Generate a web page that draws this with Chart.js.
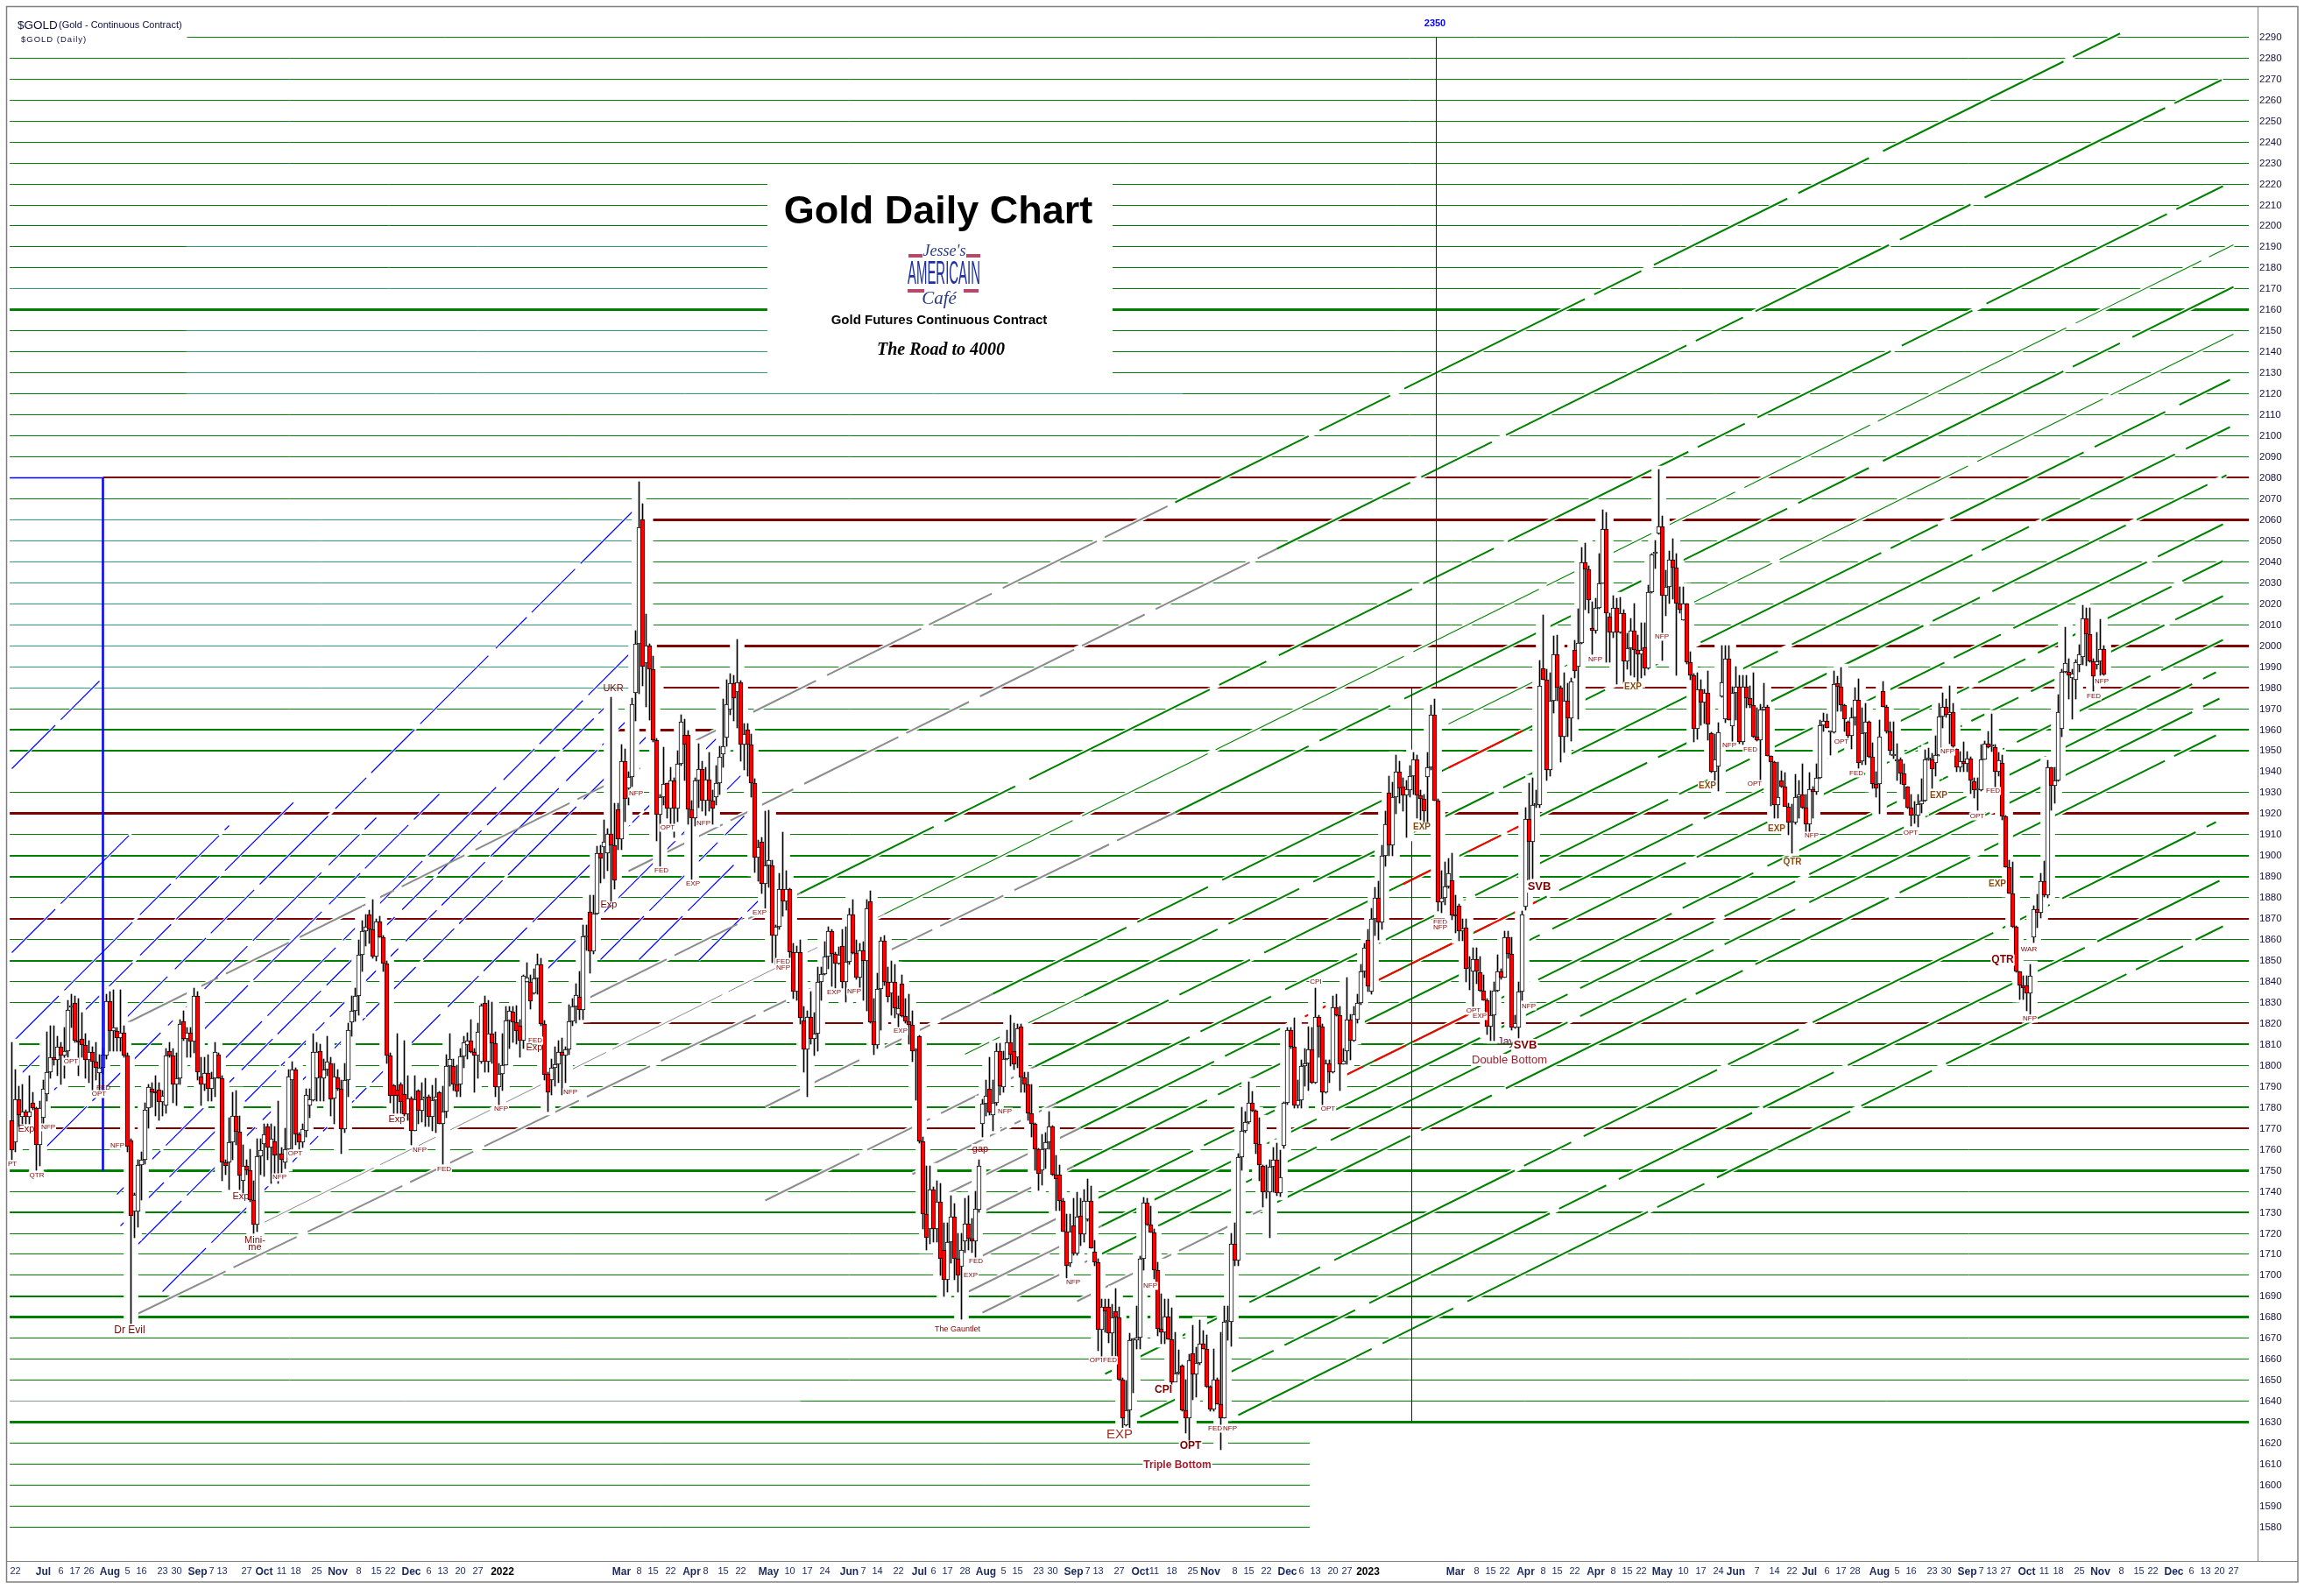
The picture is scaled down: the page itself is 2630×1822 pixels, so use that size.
<!DOCTYPE html>
<html><head><meta charset="utf-8"><style>html,body{margin:0;padding:0;background:#fff}canvas{display:block}</style>
<script src="https://cdn.jsdelivr.net/npm/chart.js@4/dist/chart.umd.min.js"></script></head><body>
<canvas id="c" width="2630" height="1822"></canvas>
<script>
const opens=[
1773.9,1763.5,1783.9,1775.6,1778,1775.6,1782,1779.7,1762,1775,
1786.4,1797,1804,1802.6,1809,1804.7,1807,1827.5,1829.7,1812,
1812.6,1809.7,1802.6,1806.4,1801.7,1796.4,1799,1804.7,1830.6,1816.5,
1816.5,1813,1815.6,1804.7,1764.3,1730.6,1730.6,1752.4,1755,1779.7,
1789,1787.6,1788.5,1782.6,1781,1806.8,1804.6,1791,1794,1821,
1812.6,1815.6,1811.4,1833,1794.7,1791,1796.4,1789,1794,1805,
1794,1754,1754,1763.5,1776,1768.5,1745,1752,1750,1736,
1724,1756.8,1762.5,1770.8,1760.7,1764,1757,1758,1754,1760,
1793,1798,1767,1763.5,1769,1780.8,1783.6,1794,1806.8,1794,
1798,1801,1784.3,1794.3,1789,1769.7,1793,1820.4,1826,1833,
1852.6,1864,1872,1865,1851.7,1868.7,1861,1848.5,1804.7,1790.5,
1788.5,1791,1786.4,1776.7,1784.3,1768.7,1788,1778.5,1784.3,1785,
1775.6,1783.3,1787,1772,1778,1799.6,1799.6,1791,1791,1804.4,
1809.7,1811.8,1806.5,1804.7,1801.7,1829.6,1801.8,1815,1810.7,1789.9,
1796,1800,1821.5,1825.7,1820.8,1818.8,1812,1840,1840,1834.3,
1841.4,1848,1819.7,1796,1793,1799,1800.5,1806.4,1804.7,1807.5,
1821,1828,1832.6,1826.4,1861,1873,1854.3,1872.3,1901.3,1904.2,
1901.3,1910.4,1905,1922,1907.7,1945,1932,1937.5,1977.7,2001,
2060,1991.8,2000,1988.6,1954.8,1919.7,1928,1934.4,1922.4,1935.6,
1922.4,1943.6,1957.6,1957.6,1922,1917.8,1936,1941.2,1926.4,1936.4,
1926.4,1927.7,1934.4,1948.4,1956.4,1969.6,1982,1978,1982.7,1952.7,
1960,1952.7,1934.4,1899,1906.4,1886.5,1895.3,1895.3,1862,1866,
1884,1878,1884,1853.8,1835.4,1853.8,1821.4,1807.6,1823,1812.6,
1815,1840,1843.7,1852,1863.8,1853,1848.5,1857,1839.9,1849.3,
1872,1853.5,1841.8,1855,1850,1878,1821,1809.7,1836.4,1859.3,
1839.9,1834.3,1839.6,1824.3,1838.9,1823.5,1821,1819.3,1807,1813.9,
1763.9,1729,1722,1741,1722,1735,1712,1698,1716,1728,
1708,1704,1716.2,1724.6,1717.4,1716.2,1731.3,1772.2,1781.7,1789,
1776.5,1782,1807,1789.7,1803,1810.8,1806.8,1804,1818.4,1794.3,
1791,1777,1772,1760,1750,1760,1763.4,1770.9,1748,1748,
1735.3,1721,1705.8,1723.8,1710.3,1728.3,1719.5,1726.7,1735.5,1711.4,
1706.3,1674,1684.8,1684.8,1672.3,1682.8,1680,1650.5,1628.5,1635.8,
1669,1669,1670.4,1707.9,1734.5,1724,1720.6,1702.3,1674.7,1672.8,
1680.4,1669.6,1648.9,1653.3,1656.8,1635.6,1632,1663,1652.7,1658.4,
1667.5,1665,1646.8,1636,1650.5,1638.8,1632,1678,1678,1715,
1707,1756.2,1768.8,1773,1782,1778.5,1762.6,1752.2,1739.8,1739.8,
1751.8,1755,1739.3,1761.6,1782,1816.8,1809,1781,1783.3,1799.6,
1800.9,1807.6,1792,1823,1818.7,1787.3,1801,1796.9,1827.5,1824,
1800.7,1807,1822,1811.9,1822,1829.6,1844.7,1860,1835,1870,
1880,1868,1900,1930,1905,1928,1940,1932.9,1928.5,1931,
1938,1946,1928.5,1927,1937.5,1942,1967,1926.4,1877.7,1879.8,
1885.4,1888.3,1871.5,1876,1864,1865.7,1846,1844.9,1850.7,1844.2,
1835.6,1831,1818.6,1824,1835.6,1844.9,1842,1861,1853,1818.2,
1818.2,1835.3,1875.8,1917.6,1906.4,1924,1924,1989.4,1984,1941,
1973.6,1996,1980,1956.8,1973.9,1965.5,1997.8,1990,2001.5,2039.8,
2036.4,2008.5,2007,2018,2029.7,2055.6,2013.8,2006.4,2018,2006.4,
2015.6,1992.7,1999,2007,1998,1996,1999.4,1989.4,2025.4,2044,
2053.3,2057,2024,2028,2041,2037.4,2020,2012,2020,1992,
1985.9,1960.4,1979,1973,1977.6,1958.4,1940,1942.5,1976,1965,
1993.8,1961.6,1977.6,1980.3,1954.3,1980.3,1975,1971.5,1956.8,1955.2,
1969.6,1971,1947.6,1944.4,1924,1936,1932.9,1923.3,1915.7,1915.7,
1927.7,1929,1923,1915,1931.6,1930.5,1936.9,1962,1964.3,1958.7,
1958.7,1982,1980.4,1971.6,1963.6,1957,1966,1974,1944.8,1958.4,
1963.6,1947,1934.1,1934,1978.3,1971,1959,1947.5,1944.8,1946,
1939,1933,1923,1919,1919,1924.6,1926,1946,1946,1944.3,
1948,1966.3,1971,1967,1968.3,1951,1942,1944.8,1943.7,1946.4,
1935.3,1931.3,1931.3,1946,1953.3,1952.2,1951.5,1940,1944,1918.8,
1894.6,1881.8,1866,1844.8,1838,1838,1834.4,1861,1874.6,1872.6,
1887.9,1881,1942,1933.3,1935.7,1960.4,1987.6,1987.6,1984.7,1983.7,
1990.7,1994.6,2012.9,2005.4,1992.5,1991,1992.5,1998.6];
const highs=[
1811,1798,1790,1791,1779,1795,1787,1780,1783,1793,
1816,1819,1819,1814,1811,1818,1831,1834,1833,1832,
1825,1815,1812,1809,1811,1805,1808,1834,1835,1836,
1818,1836,1819,1806,1765,1739,1755,1759,1782,1791,
1792,1795,1792,1788,1808,1811,1808,1806,1822,1826,
1818,1818,1837,1835,1804,1804,1805,1797,1811,1806,
1795,1755,1775,1787,1788,1776,1762,1755,1760,1745,
1765,1765,1772,1772,1772,1771,1783,1761,1770,1798,
1802,1799,1768,1772,1789,1789,1815,1811,1810,1803,
1814,1804,1801,1798,1793,1801,1820,1833,1837,1860,
1869,1872,1874,1879,1870,1871,1862,1850,1806,1791,
1815,1792,1812,1795,1785,1795,1788.5,1792,1794,1786,
1790.5,1794,1787.5,1790,1805,1815,1803,1800,1808,1814,
1815.5,1822,1808,1820,1829.5,1833,1831,1830,1816,1801,
1815,1828,1828,1828,1828.5,1822,1843,1849,1843,1846,
1853,1851,1821.5,1797,1803,1809,1812,1813,1809,1829,
1832,1839,1845,1867,1867,1881,1881,1904.5,1905,1917,
1913,1975.5,1925,1925,1953,1951,1940,1975,2007,2078,
2067.7,2015,2001,1995,1956,1929,1951.6,1934.5,1942,1937,
1950,1967,1965,1959.5,1926,1937,1953.5,1945,1942,1949,
1931,1943,1952,1974.7,1984,1986.7,1986,2003,1983.5,1963,
1963,1958,1936.5,1907.5,1908.5,1921,1921.6,1897.7,1867,1891.5,
1911,1893,1884.5,1858,1857,1860,1828,1826,1835,1825,
1847,1847,1859,1866,1865,1854,1856.5,1865,1866,1875,
1879,1860,1858,1859,1879,1883,1832,1844,1861,1862,
1847,1850,1848,1833,1843,1832,1834,1826,1808,1814.5,
1766,1752,1752,1742,1745,1744,1725,1725,1738,1734,
1720,1720,1736.5,1738,1727,1740,1755,1784,1793,1804,
1793,1810.5,1810.5,1807,1817,1824,1820,1819.6,1819.6,1797,
1797,1791,1772.5,1760.5,1767,1768,1778,1771.5,1757,1752.5,
1736.5,1729,1729,1736.5,1739.7,1736.5,1741,1745.7,1742.6,1716.7,
1708,1688.8,1688.8,1688.8,1686.4,1693.5,1685,1651.3,1649.7,1672.5,
1670,1685.5,1709,1737,1736.5,1733,1722,1706.3,1691.4,1688.8,
1688.8,1684.5,1673,1664.5,1657.6,1650.5,1662.5,1676,1665.6,1678.8,
1673.8,1671.4,1647.3,1665,1651.3,1673,1685.5,1685.5,1720,1725,
1758,1780,1778,1792.4,1787.6,1778.8,1775,1752.5,1752.5,1755,
1761,1763,1759.8,1782.5,1818,1818,1822.5,1793,1802.6,1808,
1818.4,1818,1837,1824,1819.6,1802.6,1802.6,1833,1834,1828,
1808,1842,1824.3,1828,1834,1848,1858,1865,1875,1885,
1888,1905,1921,1938,1935,1948,1945,1937,1936,1943,
1949,1948,1931,1929,1949,1971.5,1974.7,1927,1893,1897,
1898.6,1901,1881,1877,1870,1870,1852,1856,1856,1852,
1843,1832,1835.6,1840,1852.6,1846,1864,1864,1861,1824,
1840,1873.4,1922.8,1934.5,1937,1931,1993,2014.6,1989,1987,
2004.5,2005,1980.8,1987,1982,1984.8,2002.5,2017.8,2047,2049,
2038,2021,2022.5,2044,2064.8,2063.6,2015.4,2024,2022.5,2023,
2017,2005.8,2013,2020,2005,2011,2011,2028.8,2044,2050,
2084,2062,2036,2045,2051,2044,2028,2028,2020,1997,
1986.7,1987,1984,1979,1988,1958.8,1958,1963.5,2000,2000,
2000,1980.3,1990,1986,1986,1986,1981,1987,1970.6,1972,
1982,1971.5,1947.6,1944.8,1944.4,1940.4,1939.7,1925,1924.4,1938.8,
1935.7,1943.6,1929,1939.7,1933,1943.6,1964.7,1967.8,1967.5,1959,
1988,1985.4,1989.8,1972,1964,1970.5,1980,1984.2,1970.5,1972.4,
1964,1953.7,1940,1964.8,1983,1971.8,1963.6,1963.6,1953.5,1946.8,
1943.9,1933,1929,1925.8,1929,1936.8,1950.3,1951.3,1948.7,1957,
1972.7,1977.4,1974.8,1981,1972.4,1951,1949.6,1954,1949.6,1947,
1937,1937,1952.8,1954.5,1959,1967.5,1952.8,1949,1948,1919.3,
1897.7,1897,1866.5,1845,1842.7,1842.7,1848.3,1876,1881.7,1891.4,
1897.4,1945.6,1942.2,1942,1976.7,1988.7,2009,1993.9,1988.7,1993.5,
2000.6,2019.3,2018.2,2017.9,1994,2006.2,2012.6,2000];
const lows=[
1755,1759,1771,1772,1772,1772,1779,1750,1752,1772,
1783,1794,1800,1795,1791,1794,1804,1818,1811,1795,
1804,1794,1792,1788,1793,1788,1796,1803,1807,1807,
1807,1807,1804,1759,1677,1718,1723,1736,1753,1770,
1780,1776,1774,1776,1777,1804,1782,1781,1791,1812,
1804,1804,1806,1793,1781,1788,1783,1783,1785,1794,
1745,1748,1741,1755,1762,1741,1739,1748,1735,1720,
1721,1748,1747,1755,1744,1748,1744,1749,1751,1759,
1760,1762,1760,1761,1766,1775,1783,1783,1783,1783,
1795,1776,1772,1788,1758,1768,1785,1814,1821,1824,
1845,1857,1858,1851,1850,1861,1845,1801,1782,1777,
1777,1777,1776,1774,1762,1769,1772,1773,1771,1771,
1769,1768,1772,1753,1775,1790,1788,1785,1785,1799,
1803,1806,1787,1794,1801,1797,1797,1801,1785,1780,
1788,1800,1808,1811,1810,1804,1808,1840,1827,1834,
1834,1819,1793,1778,1786,1790,1792,1786,1792,1805,
1819,1820,1822,1822,1855,1844,1853,1872,1887,1889,
1893,1878,1884,1903,1903,1916,1924,1933,1964,1977,
1981,1971,1964.6,1954,1907,1895,1924,1918,1913,1908.5,
1916,1943,1936,1915,1888.6,1914,1923,1921,1919,1921,
1915,1924,1929,1942,1952,1967,1964,1961,1945,1941,
1938,1928,1891.8,1888,1882,1875,1885,1849,1848,1865,
1871,1874,1848,1832,1831,1819.7,1797,1785,1810,1804.7,
1807,1831,1843,1846,1837.8,1836.7,1848,1837,1830,1848,
1853,1841,1837,1831,1826,1820,1805,1808,1817,1838,
1830,1824,1822.5,1818,1823,1820,1810,1802,1783.6,1763,
1722,1712,1715,1716,1716,1700,1690,1692,1706,1698,
1692,1679,1711,1712,1711,1708,1730,1766,1776,1776.5,
1769,1781,1786,1787,1802.6,1799.7,1798,1799,1787,1787,
1774,1766,1750,1740.6,1743,1751,1760,1747.5,1731,1731,
1720.7,1698.8,1704,1709.5,1709.5,1714,1716,1726,1712.7,1704.7,
1664,1661.3,1672.8,1668,1661.6,1661.6,1649.7,1627.3,1628,1622,
1644,1665,1665,1702.3,1723.7,1720.6,1698.3,1671.2,1667.3,1667.3,
1669.6,1644,1651,1653,1635.3,1624.9,1621,1640.5,1642,1657.6,
1664.7,1646.5,1635.3,1635.3,1638.5,1617,1632,1669,1666,1704.7,
1704.7,1750,1768,1772,1778,1758,1745,1732.6,1736.6,1718,
1739.8,1738,1737.5,1760.5,1781.5,1808,1779.7,1779.7,1779.7,1790,
1788,1791.5,1791.5,1804,1781,1786.7,1791.7,1796.4,1823.7,1788,
1800.4,1800.4,1802.6,1811.6,1820,1829,1842,1835,1834,1862,
1860,1865,1895,1900,1900,1920,1925,1921,1908.5,1928,
1929,1917.8,1917,1915.7,1915.7,1941,1926,1873.4,1872.7,1876.7,
1884.6,1869.4,1863,1859.5,1859.5,1839.7,1836,1828,1839,1835,
1831,1814.7,1812,1812,1835,1841,1841.8,1851,1817,1817.6,
1813,1831,1874,1888.6,1889,1923,1923,1983.6,1935.6,1938,
1968,1973.6,1944.7,1949,1956.8,1954.5,1984.8,1965,2001,2017,
2015.5,1996,2005.8,2017.8,2029.7,1992,1992,2003.7,1981.9,2005.8,
1982,1989,1986,1985,1981.6,1984.8,1985.8,1988.6,2025,2037,
2053,1992.9,2014.3,2020,2022,1985.8,2015.5,2012,1991.5,1984,
1954,1955.6,1962,1963,1955,1939.7,1936,1930.8,1975.6,1963.4,
1964.4,1953,1964.7,1953.5,1953,1970.6,1970.6,1956.3,1954.7,1935.6,
1969,1947.6,1923.8,1918,1918,1932.4,1923.6,1910,1901.3,1915,
1917.8,1922.4,1909,1910,1917.8,1929,1936.5,1959,1961,1948,
1958.3,1968.7,1968.7,1959,1954,1950.8,1962,1941.7,1943.3,1943.3,
1946.6,1932,1928,1920,1970.8,1958.2,1948,1946.4,1935.9,1934,
1927,1922.5,1914,1915.5,1913.7,1920.5,1925.8,1945.5,1931.9,1938,
1947.6,1961,1966,1953.2,1949.6,1940,1940,1940,1940,1929.6,
1927.6,1921.7,1930.6,1945.7,1951.2,1949.6,1932.6,1938,1916.9,1894.6,
1881.8,1865.7,1844.3,1831.6,1831.6,1826,1824.4,1858.5,1865.7,1870.4,
1880.3,1880,1921.7,1925,1935.2,1956.7,1987.2,1974.8,1965,1974.8,
1987.6,1991,1990.4,1992,1978.3,1989,1986,1986];
const closes=[
1759.7,1783.9,1776.4,1778,1775.6,1778,1779.7,1762,1779.7,1789,
1797,1804,1802.6,1809,1804.7,1807,1826.4,1828.5,1812,1811,
1809.7,1802.6,1806.4,1801.7,1799,1799,1805,1830.6,1816.5,1818,
1813,1815.6,1804.7,1761.4,1728.5,1738.5,1752.4,1755,1779,1789.6,
1787,1786.7,1782.6,1785.5,1804.6,1804.6,1791,1794,1819.6,1812.6,
1815.6,1811.4,1833,1797,1791,1796.4,1789,1794,1806.4,1794,
1754,1752,1763.5,1776,1768.5,1747.6,1752,1750,1736,1724,
1756.8,1759.7,1767,1760.7,1765,1757,1757.5,1755,1760,1794.7,
1798,1767,1763.5,1769.7,1786,1784,1806.5,1806.5,1794.3,1798,
1801.7,1784,1794.7,1789,1769.7,1793,1816.8,1826,1833,1852.6,
1864,1866,1865,1851.7,1868.7,1861,1848.5,1804.7,1785.7,1785.7,
1785.7,1782.6,1776.7,1784.3,1768.7,1784,1778.5,1784,1785,1775.6,
1783.3,1785,1772,1778,1799.6,1803,1791,1787.8,1804.4,1811,
1811.8,1806.5,1804.7,1816,1828.5,1801.8,1815,1810.7,1789.9,1796,
1800,1821.5,1826,1820.8,1816.5,1812,1842.6,1841.8,1830.8,1841.4,
1848,1819.7,1795.4,1787,1799,1800.5,1806.4,1804.7,1807.5,1821,
1828,1833.5,1826.4,1861.4,1862,1854.3,1872.3,1901.3,1898.6,1906.4,
1910.4,1905,1888.4,1907.7,1945,1927,1937.5,1972.3,2001,2056.5,
1990,2000,1988.6,1954.8,1919.7,1928,1934,1922.4,1935.6,1922.4,
1943.6,1963.9,1953,1922,1917.8,1936,1941.2,1926.4,1936.4,1926.4,
1922.6,1934.4,1947,1952,1972.3,1982,1975,1982.7,1952.7,1958,
1952.7,1934.4,1899,1904,1886.5,1895.3,1897.7,1862,1866,1884,
1878,1884,1854,1835.4,1853.8,1822.8,1807.6,1823,1812.6,1815,
1840,1843.7,1852,1863.8,1853,1848.5,1852.6,1839.9,1849.3,1872,
1853.5,1841.8,1855,1849.9,1875,1820.8,1809.7,1836.4,1859.3,1839.9,
1832.6,1839.6,1827.4,1827.4,1823.5,1821,1819.3,1807,1807.5,1763.9,
1729,1718,1741,1722,1735,1708,1698,1716,1728,1708,
1700,1712,1724.6,1717.4,1716.2,1731.5,1752.2,1781.6,1785.5,1777.6,
1782,1807,1790,1803,1810.8,1805,1800.7,1817.6,1794.3,1791,
1777,1772,1760,1748.5,1760,1763.4,1770.9,1748,1746,1735.3,
1721,1704.7,1721,1710.3,1727.8,1719.5,1735.5,1735.5,1713,1706.3,
1674,1684.8,1683,1672.3,1680,1680,1650.5,1631.8,1635.8,1669,
1669.5,1670.4,1708,1734.5,1724,1720.6,1702.3,1674.7,1672.8,1680.4,
1669.6,1648.9,1653.3,1653.8,1635.6,1632,1659.6,1652.7,1658.4,1667.5,
1665,1646.8,1636,1650.5,1638.8,1632,1678,1678.5,1715,1707,
1756.2,1768.8,1773,1782,1778.5,1762.6,1752.5,1739.8,1740,1751.8,
1755,1739.3,1746.6,1782,1816.8,1809,1781,1783.3,1799.6,1800.9,
1807.6,1792,1823,1818.7,1787.3,1801,1796.9,1827.5,1824,1800.7,
1802.3,1822,1811.9,1824.3,1829.6,1844.7,1856,1837.5,1870,1880,
1868,1900,1915,1905,1928,1940,1932,1928.5,1931.6,1938,
1946,1928.5,1927,1921.3,1942,1967,1926.4,1877.7,1879.8,1885.4,
1891.5,1871.5,1871,1864,1865.4,1846,1846.5,1850.7,1844.9,1835.6,
1831,1818.6,1824,1835.6,1844.9,1842,1861,1853,1818.2,1820,
1835.3,1871.8,1917.6,1906.4,1924,1924.5,1981,1984,1941,1973.6,
1996,1980,1956.8,1973.9,1965.5,1983,1987.8,2001.5,2039.8,2036.4,
2021.8,2007,2018,2029.7,2055.6,2015.4,2006.4,2018,2006.4,2015.6,
1992.7,1999,2007,1998,1996,1998,1989.4,2025.4,2043.6,2044.5,
2057,2024,2028,2041,2037.4,2020,2017,2020,1992,1986,
1960.4,1979,1973,1977.6,1962.4,1940,1946,1958.8,1982.4,1993.8,
1964.7,1977.6,1980.3,1954.3,1980.3,1975,1971.5,1956.8,1955.2,1969.6,
1970.7,1947.6,1944.4,1924,1928,1933,1923.3,1915.7,1916,1927.7,
1929,1923,1915,1931.6,1930.5,1936.9,1962,1964.3,1961,1959,
1981.9,1980.4,1971.6,1965,1957,1966,1974,1944,1958.4,1963.6,
1947,1934.1,1932,1956.6,1971,1959,1949.9,1947.7,1946,1939,
1933.7,1923,1919,1920,1924.6,1926,1946,1946.4,1941.3,1948,
1966.3,1971,1967,1968.3,1952,1942,1944.8,1943.7,1946.4,1935.6,
1931.3,1931.6,1946,1953.3,1951.7,1952.5,1940,1945.3,1918.8,1894.6,
1881.8,1866,1844.8,1838,1836.8,1834.4,1842.7,1874.6,1872.6,1887.9,
1881,1942,1933.3,1935.7,1968.3,1987.6,1991.7,1985.8,1986.6,1992,
1995.9,2012.9,2005.4,1992.5,1985.3,1992.5,1998.6,1986.3];

const yTickValues=[2290,2280,2270,2260,2250,2240,2230,2220,2210,2200,2190,2180,2170,2160,2150,2140,2130,2120,2110,2100,2090,2080,2070,2060,2050,2040,2030,2020,2010,2000,1990,1980,1970,1960,1950,1940,1930,1920,1910,1900,1890,1880,1870,1860,1850,1840,1830,1820,1810,1800,1790,1780,1770,1760,1750,1740,1730,1720,1710,1700,1690,1680,1670,1660,1650,1640,1630,1620,1610,1600,1590,1580];
const dateLabels=["22","Jul","6","17","26","Aug","5","16","23","30","Sep","7","13","27","Oct","11","18","25","Nov","8","15","22","Dec","6","13","20","27","2022","Mar","8","15","22","Apr","8","15","22","May","10","17","24","Jun","7","14","22","Jul","6","17","28","Aug","5","15","23","30","Sep","7","13","27","Oct","11","18","25","Nov","8","15","22","Dec","6","13","20","27","2023","Mar","8","15","22","Apr","8","15","22","Apr","8","15","22","May","10","17","24","Jun","7","14","22","Jul","6","17","28","Aug","5","16","23","30","Sep","7","13","27","Oct","11","18","25","Nov","8","15","22","Dec","6","13","20","27"];
const dateIndex=[1,9,14,18,22,28,33,37,43,47,53,57,60,67,72,77,81,87,93,99,104,108,114,119,123,128,133,140,174,179,183,188,194,198,203,208,216,222,227,232,239,243,247,253,259,263,267,272,278,283,287,293,297,303,307,310,316,322,326,331,337,342,349,353,358,364,368,372,377,381,387,412,418,422,426,432,437,441,446,452,457,461,465,471,477,482,487,492,498,503,508,513,518,522,526,533,538,542,548,552,558,562,565,569,575,580,584,590,596,602,607,611,617,622,626,630,634];

/* straight trend lines: start session, start price, end session, end price */
const greenTrends=[[332,2068.2,603,2292.8],[361,2046,631,2269.8],[225,1882.3,631,2218.8],[332,1920.7,634,2171],[280,1834.2,633,2126.8],[306,1833.3,633,2104.4],[292,1799.4,632,2081.3],[298,1782,631,2058],[305,1770.3,631,2040.5],[303,1751.9,631,2023.7],[299,1727.6,631,2002.8],[311,1723.6,629,1987.2],[311,1710.3,630,1974.7],[361,1734.9,629,1957.1],[312,1653,629,1915.8],[322,1632.7,630,1888],[350,1633.5,631,1866.4]];
const thinGreenTrends=[[249,1872.1,634,2191.2],[410,1962.9,634,2148.6],[272,1805.2,306,1833.3]];
const grayTrends=[[32,1819.5,332,2068.2],[176,1892.7,361,2046],[160,1828.4,225,1882.3],[34,1680.2,332,1920.7],[215,1780.3,280,1834.2],[215,1735.6,292,1799.4],[257,1748,298,1782],[265,1737.2,305,1770.3],[278,1731.1,303,1751.9],[277,1709.4,299,1727.6],[273,1692.1,311,1723.6],[277,1682.1,311,1710.3],[304,1687.7,361,1734.9]];
const thinGrayTrends=[[72,1725.4,249,1872.1]];
const redTrends=[[410,1941.9,431,1959.4],[397,1886.5,431,1914.7],[369,1823.4,435,1878.1],[370,1786.5,416,1824.6]];
const blueTrends=[[0,1941.4,25,1983.1],[0,1853.9,34,1910.6],[1,1812.6,62,1914.3],[1,1793.1,82,1928.2],[11,1786.7,178,2065.2],[9,1759.7,104,1918.1],[55,1817.6,122,1929.4],[59,1800.5,176,1995.6],[30,1738.4,170,1971.9],[31,1723.4,175,1963.6],[36,1714.6,181,1956.5],[43,1692.1,203,1958.9],[150,1841.4,209,1939.7],[168,1850.6,209,1919],[179,1850.5,206,1895.5],[196,1850.2,213,1878.5]];
const blueVerticals=[[406.5,2290,406.5,1980],[399.5,1980,399.5,1630]];

const greenThinFull=[2280,2270,2260,2250,2240,2230,2110,2100,2090,2070,1970,1930,1910,1880,1860,1840,1830,1800,1790,1760,1740,1720,1710,1700,1670,1660,1650];
const greenThinTitled=[2220,2210,2200,2180];
const greenThinTealMid=[2190,2150,2140,2130];
const tealRight=[2050,2040,2030,2020,2010,1990];
const tealLeftOnly=[2060,2000,1980];
const greenMidFull=[1960,1950,1900,1890,1850,1810,1780,1730,1690];
const greenThickFull=[1750,1680,1630];
const bottomLevels=[1620,1610,1600,1590,1580];

const fromLeft=-0.6,toRight=638.4,titleL=215.6,titleR=314.1;
const seg=(levels,a,b)=>levels.flatMap(v=>[{x:a,y:v},{x:b,y:v},{x:b,y:null}]);
const diag=list=>list.flatMap(r=>[{x:r[0],y:r[1]},{x:r[2],y:r[3]},{x:r[2],y:null}]);
const lineDs=(data,color,width,order,dash,axis)=>({type:'line',data,borderColor:color,borderWidth:width,pointRadius:0,pointHitRadius:0,tension:0,fill:false,spanGaps:false,order,borderDash:dash||[],borderCapStyle:'butt',yAxisID:axis||'y'});

const GREEN='#008000',TEAL='#2f9a80',DRED='#800000',GRAY='#8c8c8c',BLUE='#0000ff';
const greenThin=[...seg(greenThinFull,fromLeft,toRight),...seg([2290],50,toRight),...seg(greenThinTitled,fromLeft,titleL),...seg(greenThinTitled,titleR,toRight),
 ...seg(greenThinTealMid,fromLeft,50),...seg(greenThinTealMid,titleR,toRight),...seg([2170],titleR,toRight),...seg([2120],fromLeft,50),...seg([2120],334,toRight),
 ...seg(tealRight,183,toRight),...seg(bottomLevels,fromLeft,370.4),...seg([1640],225,toRight)];
const tealThin=[...seg(greenThinTealMid,50,titleL),...seg([2170],fromLeft,titleL),...seg([2120],50,334),...seg(tealRight,fromLeft,177),...seg(tealLeftOnly,fromLeft,177)];

const allDiag=[...greenTrends,...thinGreenTrends,...grayTrends,...thinGrayTrends,...redTrends];
const n=opens.length;
const idx=Array.from({length:n},(_,i)=>i);
const up=idx.filter(i=>closes[i]>=opens[i]);
const down=idx.filter(i=>closes[i]<opens[i]);
const barDs=(data,extra)=>Object.assign({type:'bar',data,grouped:false,borderSkipped:false,categoryPercentage:1,barPercentage:1,yAxisID:'yb'},extra);

const datasets=[
 lineDs(greenThin,GREEN,1,100),
 lineDs(tealThin,TEAL,1,100),
 lineDs(seg([1640],fromLeft,225),'#8a9a8a',1,100),
 lineDs(seg(greenMidFull,fromLeft,toRight),GREEN,2,99,null,'yb'),
 lineDs([...seg([2160],fromLeft,titleL),...seg([2160],titleR,toRight),...seg(greenThickFull,fromLeft,toRight)],GREEN,3,99),
 lineDs([...seg([2080],26,toRight),...seg([1980],186,toRight),...seg([1870],fromLeft,toRight),...seg([1820],163,toRight),...seg([1770],9,toRight)],DRED,2,98,null,'yb'),
 lineDs([...seg([2060,2000],183,toRight),...seg([1920],fromLeft,toRight),...seg([1960],172,199.6)],DRED,3,98),
 lineDs(diag(blueTrends),'#ffffff',3,91),
 lineDs(diag(allDiag),'#ffffff',5,90),
 lineDs(diag(blueTrends),BLUE,1.2,85,[70,9,110,12,50,8]),
 lineDs(diag(grayTrends),GRAY,2,84,[120,10,80,14]),
 lineDs(diag(thinGrayTrends),GRAY,1,84,[140,8]),
 lineDs(diag(greenTrends),GREEN,2,83,[170,14,90,18,230,12,60,16]),
 lineDs(diag(thinGreenTrends),GREEN,1.1,83,[240,12,160,10]),
 lineDs(diag(redTrends),'#ff0000',2,82,[70,14,40,9]),
 lineDs(diag(blueVerticals),BLUE,1,81),
 barDs(idx.map(i=>({x:i,y:[lows[i]-1.5,highs[i]+1.5]})),{backgroundColor:'#ffffff',borderWidth:0,barThickness:16,order:70}),
 barDs(idx.map(i=>({x:i,y:[lows[i],highs[i]]})),{backgroundColor:'#000000',borderWidth:0,barThickness:1,order:60}),
 barDs(up.map(i=>({x:i,y:[opens[i],closes[i]]})),{backgroundColor:'#ffffff',borderColor:'#000000',borderWidth:1,barThickness:5,minBarLength:2,order:50}),
 barDs(down.map(i=>({x:i,y:[closes[i],opens[i]]})),{backgroundColor:'#ff0000',borderColor:'#000000',borderWidth:1,barThickness:5,minBarLength:2,order:49}),
 lineDs(seg([2080],fromLeft,26),BLUE,1.5,20),
 lineDs([{x:26,y:2080},{x:26,y:1750}],BLUE,2.5,20)
];

/* annotation text: label, left-right centre, vertical centre, style key */
const notes=[["PT",14,1329,"s"],["Exp",30,1289,"m"],["NFP",55,1287,"s"],["QTR",42,1342,"s"],["OPT",81,1212,"s"],["OPT",113,1249,"s"],["FED",118,1242,"n"],["NFP",134,1308,"s"],["Dr Evil",148,1519,"l"],["Exp",275,1366,"m"],["Mini-",291,1416,"m"],["me",291,1424,"m"],["NFP",319,1344,"s"],["OPT",337,1317,"s"],["Exp",453,1278,"m"],["NFP",479,1313,"s"],["NFP",572,1266,"s"],["FED",507,1335,"s"],["FED",611,1188,"s"],["Exp",610,1196,"m"],["NFP",651,1247,"s"],["Exp",695,1033,"m"],["EXP",867,1042,"s"],["FED",894,1098,"s"],["NFP",894,1105,"s"],["UKR",700,786,"m"],["NFP",726,906,"s"],["OPT",762,945,"s"],["FED",755,994,"s"],["NFP",803,940,"s"],["EXP",791,1009,"s"],["EXP",952,1133,"s"],["NFP",975,1132,"s"],["EXP",1028,1177,"s"],["NFP",1147,1269,"s"],["gap",1119,1312,"g"],["FED",1114,1440,"s"],["EXP",1108,1456,"s"],["The Gauntlet",1093,1518,"t"],["NFP",1225,1464,"s"],["NFP",1313,1468,"s"],["OPT",1252,1553,"s"],["FED",1267,1553,"s"],["CPI",1328,1587,"b"],["EXP",1278,1638,"x"],["OPT",1359,1651,"b"],["Triple Bottom",1344,1673,"tb"],["FED",1387,1631,"s"],["NFP",1404,1631,"s"],["CPI",1502,1121,"s"],["OPT",1516,1266,"s"],["EXP",1623,944,"o"],["FED",1644,1053,"s"],["NFP",1644,1059,"s"],["SVB",1757,1012,"v"],["OPT",1682,1154,"s"],["EXP",1689,1160,"s"],["NFP",1745,1149,"s"],["Jay",1719,1189,"j"],["SVB",1741,1193,"v"],["Double Bottom",1723,1210,"db"],["NFP",1821,753,"s"],["EXP",1864,784,"o"],["NFP",1897,727,"s"],["NFP",1974,851,"s"],["FED",1998,856,"s"],["OPT",2003,895,"s"],["EXP",1949,897,"o"],["EXP",2028,946,"o"],["QTR",2046,984,"o"],["NFP",2068,954,"s"],["OPT",2102,847,"s"],["FED",2119,883,"s"],["OPT",2181,951,"s"],["EXP",2213,908,"o"],["NFP",2223,858,"s"],["OPT",2257,932,"s"],["FED",2275,903,"s"],["EXP",2280,1009,"o"],["QTR",2286,1096,"b"],["WAR",2316,1084,"s"],["NFP",2317,1163,"s"],["FED",2390,795,"s"],["NFP",2399,778,"s"]];
const noteStyle={s:['8px',DRED,true],n:['8px',DRED,false],m:['11px',DRED,false],l:['12px',DRED,true],g:['11px',DRED,true],t:['9px',DRED,true],b:['bold 12px','#7a0000',true],x:['15px','#a03020',true],tb:['bold 12px','#a02030',true],o:['bold 10px','#8a4a10',true],v:['bold 13px','#800000',true],j:['13px','#702050',false],db:['13px','#a02030',true]};

const SANS='"Liberation Sans",Arial,sans-serif';
const decor={id:'decor',
 beforeDraw(c){const x=c.ctx;x.save();x.fillStyle='#fff';x.fillRect(0,0,c.width,c.height);x.restore();},
 afterDatasetsDraw(c){const x=c.ctx;x.save();
  x.strokeStyle='#808080';x.lineWidth=1.5;x.strokeRect(7.5,7.5,2615.5,1798.5);
  x.lineWidth=1;x.beginPath();x.moveTo(7,1782.5);x.lineTo(2623,1782.5);x.moveTo(2577.5,7);x.lineTo(2577.5,1782);x.stroke();
  x.textBaseline='middle';
  for(const [t,px,py,k] of notes){const st=noteStyle[k];x.font=st[0]+' '+SANS;x.textAlign='center';
   if(st[2]){const w=x.measureText(t).width+2;const h=parseInt(st[0].replace('bold ',''))+1;x.fillStyle='#fff';x.fillRect(px-w/2,py-h/2,w,h);}
   x.fillStyle=st[1];x.fillText(t,px,py);
   if(k==='g'){x.strokeStyle=DRED;x.lineWidth=1;x.beginPath();x.moveTo(px-11,py+.5);x.lineTo(px+11,py+.5);x.stroke();}}
  x.textAlign='left';x.fillStyle='#10103a';
  x.font='13.5px '+SANS;x.fillText('$GOLD',20,29);
  x.font='11px '+SANS;x.fillText('(Gold - Continuous Contract)',67,29);
  x.font='9.5px '+SANS;x.letterSpacing='1px';x.fillText('$GOLD (Daily)',24,45);x.letterSpacing='0px';
  x.fillStyle=BLUE;x.font='bold 11px '+SANS;x.textAlign='center';x.fillText('2350',1638,27);
  x.fillStyle='#000';x.textBaseline='alphabetic';
  x.font='bold 45px '+SANS;x.fillText('Gold Daily Chart',1071,255);
  x.font='bold 15px '+SANS;x.fillText('Gold Futures Continuous Contract',1072,370);
  x.font='italic bold 20px Georgia,"Liberation Serif",serif';x.fillText('The Road to 4000',1074,405);
  x.fillStyle='#b8486a';x.fillRect(1037,290,16,4);x.fillRect(1103,290,16,4);x.fillRect(1036,330,19,4);x.fillRect(1100,330,17,4);
  x.fillStyle='#2a3a80';x.font='italic 18px "Liberation Serif",serif';x.fillText("Jesse's",1078,292);
  x.font='italic 21px "Liberation Serif",serif';x.fillText('Café',1072,347);
  x.fillStyle='#1c2fa5';x.font='36px '+SANS;const mw=x.measureText('AMERICAIN').width;
  x.translate(1036,324);x.scale(83/mw,1);x.textAlign='left';x.fillText('AMERICAIN',0,0);
  x.restore();}
};

/* keep horizontal marks on whole pixel rows, as in the reference bitmap */
const snapRows=(s,fn)=>{const f=Object.getPrototypeOf(s).getPixelForValue.bind(s);s.getPixelForValue=v=>fn(f(v));};

new Chart(document.getElementById('c'),{
 data:{datasets},
 plugins:[decor],
 options:{responsive:false,animation:false,devicePixelRatio:1,events:[],
  layout:{autoPadding:false,padding:{left:6,top:7,right:7,bottom:16}},
  plugins:{legend:{display:false},tooltip:{enabled:false},title:{display:false}},
  scales:{
   x:{type:'linear',position:'bottom',min:-1.875,max:640.875,offset:false,
    grid:{display:false,drawTicks:false},border:{display:false},
    afterFit(s){s.height=24;},
    afterBuildTicks(s){s.ticks=dateIndex.map(v=>({value:v}));},
    ticks:{autoSkip:false,maxRotation:0,minRotation:0,padding:5,
     callback:(v,i)=>dateLabels[i],
     font:c=>{const t=dateLabels[c.index]||'';const bold=/[A-Za-z]/.test(t)||t==='2022'||t==='2023';return {family:'"Liberation Sans",Arial,sans-serif',size:bold?12:11,weight:bold?'bold':'normal'};},
     color:c=>{const t=dateLabels[c.index]||'';return (t==='2022'||t==='2023')?'#000':'#1b2a5e';}}},
   y:{type:'linear',position:'right',min:1563.9,max:2303.97,
    grid:{display:false,drawTicks:false},border:{display:false},
    afterFit(s){s.width=46;},
    afterUpdate(s){snapRows(s,p=>Math.floor(p)+.5);},
    afterBuildTicks(s){s.ticks=yTickValues.map(v=>({value:v}));},
    ticks:{autoSkip:false,padding:2,callback:v=>String(v),color:'#10103a',font:{family:'"Liberation Sans",Arial,sans-serif',size:11.5}}},
   yb:{type:'linear',position:'right',display:false,min:1563.9,max:2303.97,
    afterUpdate(s){snapRows(s,p=>Math.round(p));}}
  }}
});
</script></body></html>
